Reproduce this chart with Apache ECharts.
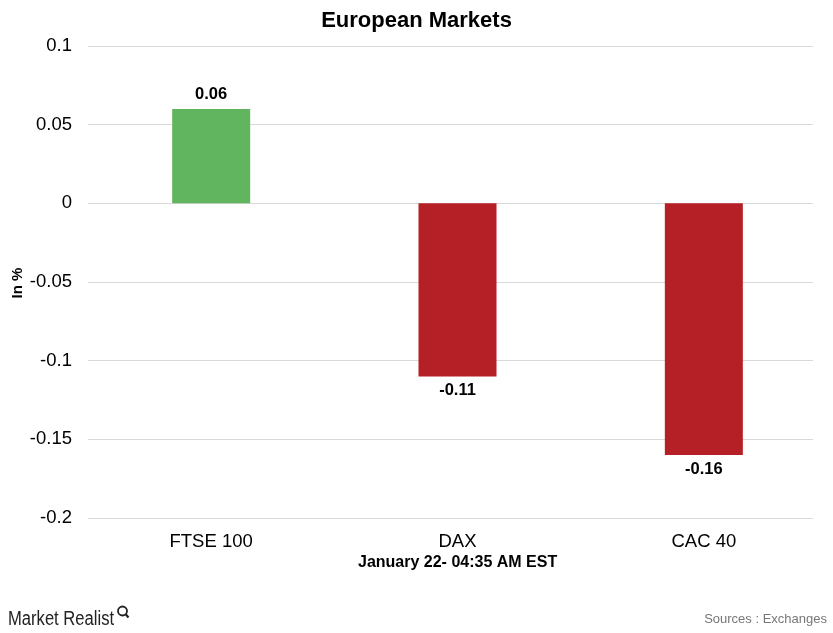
<!DOCTYPE html>
<html><head><meta charset="utf-8">
<script src="https://cdn.jsdelivr.net/npm/echarts@6/dist/echarts.min.js"></script>
<style>html,body{margin:0;padding:0;background:#fff}#c{width:833px;height:633px}</style>
</head><body><div id="c"></div>
<script>
const categories = ['FTSE 100', 'DAX', 'CAC 40'];
const values = [0.06, -0.11, -0.16];
const yTicks = { min: -0.2, max: 0.1, interval: 0.05 };
const yAxisName = 'In %';
const green = '#62B55F', red = '#B51F26';

const chart = echarts.init(document.getElementById('c'));
const font = 'Liberation Sans, Arial, sans-serif';
chart.setOption({
  animation: false,
  title: {
    text: 'European Markets', left: 'center', top: 5,
    textStyle: { fontFamily: font, fontWeight: 'bold', fontSize: 22, color: '#000' }
  },
  graphic: [
    { type: 'text', x: 18, y: 283, rotation: Math.PI / 2,
      style: { text: yAxisName, font: 'bold 15px ' + font, fill: '#000', align: 'center', verticalAlign: 'middle' } },
    { type: 'text', left: 358, top: 555, style: { text: 'January 22- 04:35 AM EST', font: 'bold 16px ' + font, fill: '#000' } },
    { type: 'text', x: 8, y: 609, scaleX: 0.83, style: { text: 'Market Realist', font: '20px ' + font, fill: '#222' } },
    { type: 'circle', shape: { cx: 122.5, cy: 611, r: 4.5 }, style: { fill: 'none', stroke: '#222', lineWidth: 1.8 } },
    { type: 'line', shape: { x1: 125.5, y1: 614, x2: 128.5, y2: 617.5 }, style: { stroke: '#222', lineWidth: 2.2 } },
    { type: 'text', right: 6, top: 613, style: { text: 'Sources : Exchanges', font: '13px ' + font, fill: '#777' } }
  ],
  grid: [
    { left: 88, right: 20, top: 46, bottom: 115, outerBoundsMode: 'none', containLabel: false },
    { left: 88, right: 6, top: 46, bottom: 115, outerBoundsMode: 'none', containLabel: false }
  ],
  xAxis: [
    { type: 'category', gridIndex: 0, data: categories, show: false },
    { type: 'category', gridIndex: 1, data: categories,
      axisLine: { show: false }, axisTick: { show: false },
      axisLabel: { fontFamily: font, fontSize: 18.5, color: '#000', margin: 14 } }
  ],
  yAxis: [
    { type: 'value', gridIndex: 0, min: yTicks.min, max: yTicks.max, interval: yTicks.interval,
      axisLine: { show: false }, axisTick: { show: false },
      axisLabel: { fontFamily: font, fontSize: 18.5, color: '#000', margin: 16 },
      splitLine: { lineStyle: { color: '#D9D9D9', width: 1 } } },
    { type: 'value', gridIndex: 1, min: yTicks.min, max: yTicks.max, interval: yTicks.interval, show: false,
      splitLine: { show: false } }
  ],
  series: [{
    type: 'bar', xAxisIndex: 1, yAxisIndex: 1, barWidth: 78,
    data: values.map(v => ({ value: v, itemStyle: { color: v >= 0 ? green : red } })),
    label: { show: true, position: 'outside', fontFamily: font, fontWeight: 'bold', fontSize: 16.5, color: '#000', distance: 6,
      formatter: p => String(p.value) }
  }]
});
</script></body></html>
